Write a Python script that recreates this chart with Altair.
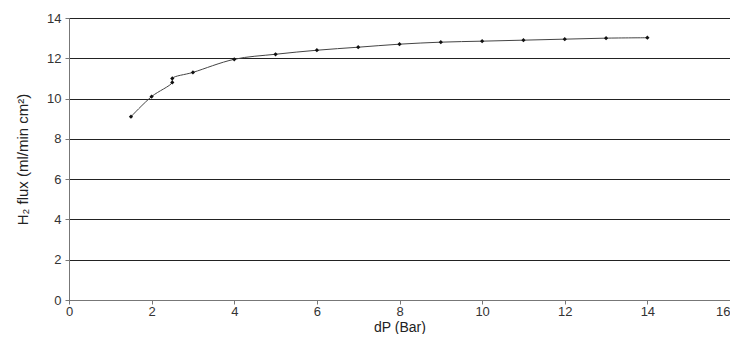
import altair as alt
import pandas as pd

dp = [1.5, 2, 2.5, 2.5, 3, 4, 5, 6, 7, 8, 9, 10, 11, 12, 13, 14]
flux = [9.1, 10.1, 10.8, 11.0, 11.3, 11.95, 12.2, 12.4, 12.55, 12.7, 12.8, 12.85, 12.9, 12.95, 13.0, 13.02]

df = pd.DataFrame({"dP": dp, "flux": flux, "order": list(range(len(dp)))})

font = "Liberation Sans"

x = alt.X("dP:Q", scale=alt.Scale(domain=[0, 16], nice=False),
          axis=alt.Axis(values=list(range(0, 17, 2)), title="dP (Bar)", grid=False, labelFlush=False,
                        labelAlign=alt.expr("datum.value == 16 ? 'right' : 'center'"),
                        labelFont=font, labelFontSize=13, labelColor="#333",
                        titleFont=font, titleFontSize=14, titleFontWeight="normal", titleColor="#222",
                        domainColor="#777", tickColor="#777", tickSize=4, labelPadding=1, titlePadding=2))
y = alt.Y("flux:Q", scale=alt.Scale(domain=[0, 14], nice=False),
          axis=alt.Axis(values=list(range(0, 15, 2)), title="H\u2082 flux (ml/min cm\u00b2)", grid=True,
                        gridColor="#222", gridWidth=1,
                        labelFont=font, labelFontSize=13, labelColor="#333",
                        titleFont=font, titleFontSize=15, titleFontWeight="normal", titleColor="#222",
                        domainColor="#777", tickColor="#777", tickSize=4, labelPadding=4, titlePadding=16))

line = alt.Chart(df).mark_line(color="#444", strokeWidth=1, interpolate="catmull-rom").encode(
    x=x, y=y, order="order:Q")
pts = alt.Chart(df).mark_point(shape="diamond", filled=True, color="#111", size=18, opacity=1).encode(
    x="dP:Q", y="flux:Q")

chart = (line + pts).properties(
    width=661, height=282,
    autosize=alt.AutoSizeParams(type="none"),
    padding={"left": 61, "top": 10, "right": 0, "bottom": 34},
).configure_view(stroke="#666", strokeWidth=1)

chart.save("out.html", embed_options={"renderer": "svg", "actions": False})
